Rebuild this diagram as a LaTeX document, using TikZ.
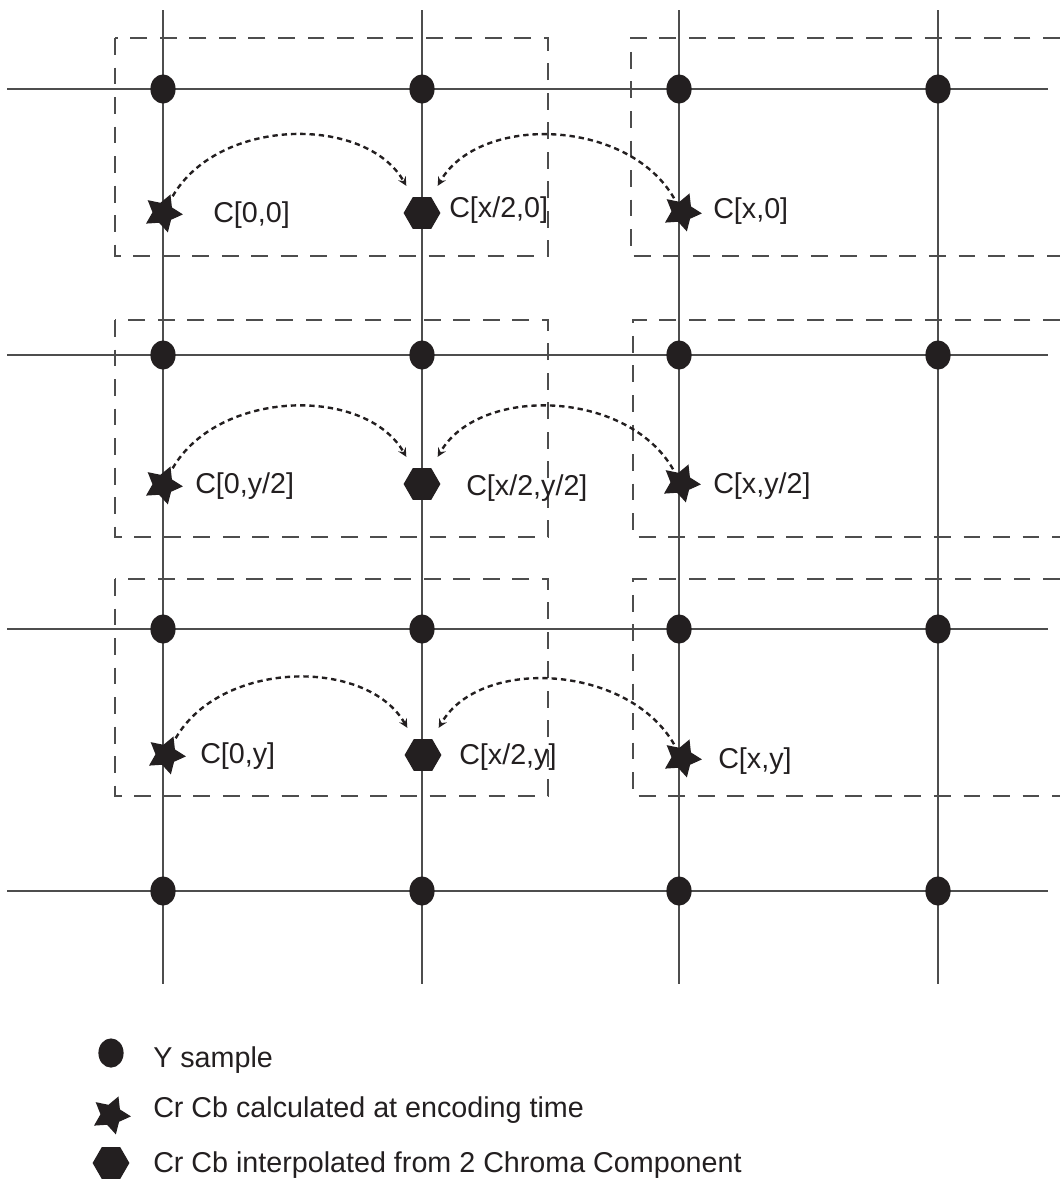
\documentclass[tikz,border=0pt]{standalone}
\usepackage{fontspec}
\setmainfont{Liberation Sans}
\usetikzlibrary{shapes.geometric}
\definecolor{ink}{HTML}{231F20}
\definecolor{rule}{HTML}{4D4D4D}
\tikzset{
  ysamp/.style={ellipse,fill=ink,minimum width=0.63cm,minimum height=0.73cm,inner sep=0},
  starmk/.style={star,star points=5,star point ratio=1.9,fill=ink,minimum size=1.0cm,inner sep=0,shape border rotate=-22},
  hexmk/.style={regular polygon,regular polygon sides=6,fill=ink,minimum size=0.92cm,inner sep=0},
  lab/.style={font=\fontsize{20.4}{24}\selectfont,text=ink,anchor=base west,inner sep=0},
  gridln/.style={rule,line width=0.95pt},
  boxln/.style={rule,line width=0.8pt,dash pattern=on 12pt off 9pt},
  interp/.style={->,ink,line width=1.7pt,dash pattern=on 3.8pt off 2.8pt,shorten <=2pt,shorten >=9pt},
}

\begin{document}
\begin{tikzpicture}[x=0.025cm,y=-0.025cm,>=stealth]
  \useasboundingbox (0,0) rectangle (1060,1179);
  % ---- luma grid ----
  \foreach \x in {163,422,679,938} \draw[gridln] (\x,10) -- (\x,984);
  \foreach \y in {89,355,629,891} \draw[gridln] (7,\y) -- (1048,\y);
  % ---- dashed chroma blocks ----
  \draw[boxln] (115,38) rectangle (548,256);
  \draw[boxln] (115,320) rectangle (548,537);
  \draw[boxln] (115,579) rectangle (548,796);
  \draw[boxln] (1060,38) -- (631,38) -- (631,256) -- (1060,256);
  \draw[boxln] (1060,320) -- (633,320) -- (633,537) -- (1060,537);
  \draw[boxln] (1060,579) -- (633,579) -- (633,796) -- (1060,796);
  % ---- Y samples ----
  \foreach \i/\x in {1/163,2/422,3/679,4/938}
    \foreach \j/\y in {1/89,2/355,3/629,4/891}
      \node[ysamp] (d\i\j) at (\x,\y) {};
  % ---- chroma samples ----
  \node[starmk] (sL1) at (163,213) {};
  \node[hexmk]  (h1)  at (422,213) {};
  \node[starmk] (sR1) at (682,212) {};
  \node[starmk] (sL2) at (163,485) {};
  \node[hexmk]  (h2)  at (422,484) {};
  \node[starmk] (sR2) at (681,483) {};
  \node[starmk] (sL3) at (166,755) {};
  \node[hexmk]  (h3)  at (423,755) {};
  \node[starmk] (sR3) at (682,758) {};
  \node[lab] (c01) at (213,222) {C[0,0]};
  \node[lab] (c21) at (449,217) {C[x/2,0]};
  \node[lab] (c11) at (713,218) {C[x,0]};
  \node[lab] (c02) at (195,493) {C[0,y/2]};
  \node[lab] (c22) at (466,495) {C[x/2,y/2]};
  \node[lab] (c12) at (713,493) {C[x,y/2]};
  \node[lab] (c03) at (200,763) {C[0,y]};
  \node[lab] (c23) at (459,764) {C[x/2,y]};
  \node[lab] (c13) at (718,768) {C[x,y]};
  % ---- interpolation ----
  \foreach \r in {1,2,3} {
    \draw[interp] (sL\r) to[out=60,in=120] (h\r);
    \draw[interp] (sR\r) to[out=120,in=60] (h\r);
  }
  % ---- legend ----
  \node[ysamp]  (ld) at (111,1053) {};
  \node[starmk] (ls) at (111,1115) {};
  \node[hexmk]  (lh) at (111,1163) {};
  \node[lab] (ldt) at (153,1067) {Y sample};
  \node[lab] (lst) at (153,1117) {Cr Cb calculated at encoding time};
  \node[lab] (lht) at (153,1172) {Cr Cb interpolated from 2 Chroma Component};
\end{tikzpicture}
\end{document}
